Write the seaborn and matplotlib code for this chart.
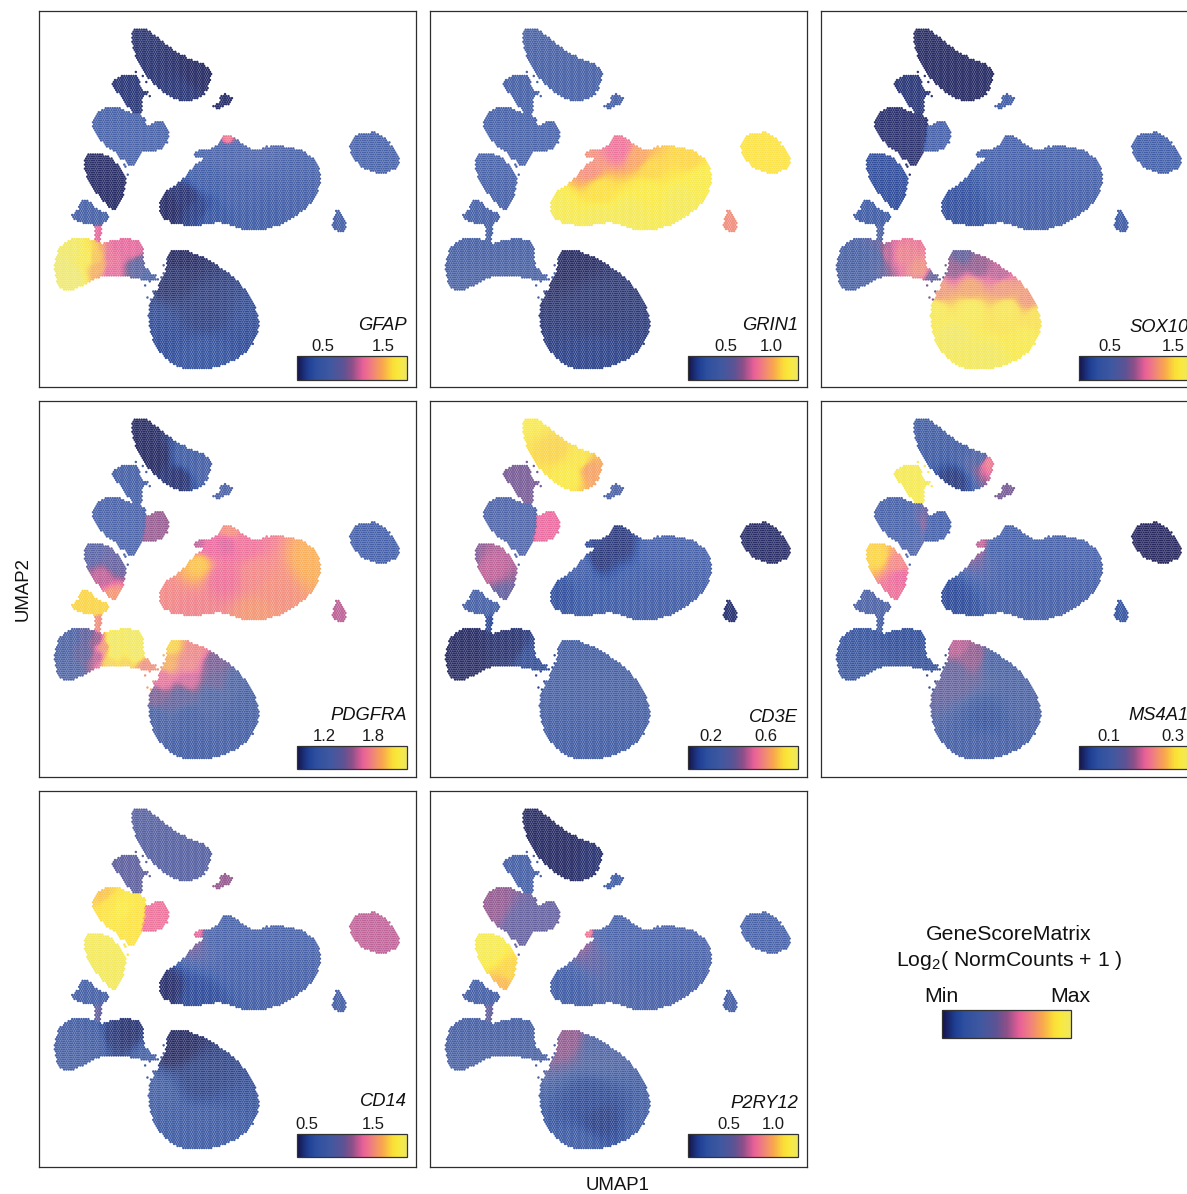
import numpy as np
import pandas as pd
import matplotlib
matplotlib.use("Agg")
import matplotlib.pyplot as plt
from matplotlib.path import Path
from matplotlib.colors import LinearSegmentedColormap, Normalize
from matplotlib.cm import ScalarMappable
from matplotlib.transforms import ScaledTranslation
import seaborn as sns

W, H = 1187, 1194
GENES = ["GFAP", "GRIN1", "SOX10", "PDGFRA", "CD3E", "MS4A1", "CD14", "P2RY12"]
VMIN = [0.056, 0.078, 0.016, 0.859, 0.034, 0.008, 0.423, 0.038]
VRANGE = [1.852, 1.22, 1.736, 1.364, 0.8, 0.342, 1.5625, 1.235]
TICKS = [[0.5, 1.0, 1.5], [0.5, 1.0], [0.5, 1.0, 1.5], [1.2, 1.8], [0.2, 0.6],
         [0.1, 0.2, 0.3], [0.5, 1.0, 1.5], [0.5, 1.0]]
TICKLABELS = [["0.5", "", "1.5"], ["0.5", "1.0"], ["0.5", "", "1.5"], ["1.2", "1.8"], ["0.2", "0.6"],
              ["0.1", "", "0.3"], ["0.5", "", "1.5"], ["0.5", "1.0"]]
LABEL_Y = [325, 325, 328, 715, 717, 715, 1101, 1104]

# Cluster outlines (UMAP axes span 0-1131 here).
CLUSTERS = {
    "A": [(280,55),(312,48),(350,75),(400,120),(450,145),(505,165),(520,190),(505,235),(480,265),(430,272),(390,255),(340,215),(300,160),(280,100)],
    "B": [(215,215),(250,195),(300,190),(303,240),(335,250),(305,252),(312,310),(280,305),(250,260),(225,235)],
    "C": [(517,293),(545,275),(550,248),(580,260),(570,280),(540,290)],
    "D": [(160,330),(190,292),(240,292),(280,310),(315,315),(322,350),(310,420),(280,475),(250,440),(190,395),(165,360)],
    "E": [(300,355),(365,330),(385,350),(390,390),(360,420),(295,425)],
    "F": [(130,455),(150,428),(200,430),(250,480),(262,520),(232,607),(190,570),(150,510)],
    "G": [(92,620),(120,600),(125,568),(150,570),(170,600),(213,610),(195,640),(170,645),(130,635)],
    "H": [(170,640),(187,640),(182,700),(165,685)],
    "IJ": [(50,750),(70,700),(110,682),(165,690),(190,705),(210,695),(250,685),(300,690),(312,720),(310,760),(335,790),(365,815),(320,810),(260,795),(180,795),(130,825),(90,842),(60,830),(50,790)],
    "K": [(385,730),(415,715),(480,735),(560,780),(620,840),(665,930),(640,1010),(570,1060),(480,1082),(400,1065),(345,1000),(328,930),(335,870),(370,815),(385,770)],
    "L": [(360,590),(375,545),(420,520),(460,475),(505,437),(455,435),(490,415),(510,420),(545,400),(548,378),(570,372),(590,385),(610,405),(650,425),(700,402),(780,415),(830,450),(848,500),(830,560),(780,610),(720,645),(650,660),(590,650),(540,630),(480,645),(410,640),(375,625)],
    "M": [(930,400),(960,368),(1010,365),(1050,395),(1082,450),(1070,475),(1020,490),(970,470),(945,440)],
    "N": [(875,645),(890,625),(893,595),(915,620),(923,650),(905,668)],
}
# Loose cells outside the outlines, each belonging to a cluster.
STRAY_IJ = [(340,800),(355,805),(330,815),(345,845),(335,870),(325,860),(315,825),(375,765),(385,745),(350,795),(365,800),(375,790)]
STRAY_B = [(290,185),(330,255),(320,250),(310,195),(325,215),(300,270)]
STRAY_D = [(255,465),(265,490),(245,445),(262,470)]

# Score anchors: (x, y, position on the colour scale 0-1) per gene and cluster,
# read by eye. The cell values between anchors are blended from them, because
# the thousands of individual hex cells cannot be read one by one.
ANCHORS = {
"GFAP": dict(A=[(300,80,.04),(480,190,.02),(430,250,.05)],B=[(260,230,.05)],C=[(550,270,.03)],D=[(240,350,.25)],E=[(350,380,.25)],F=[(190,500,.02)],G=[(150,610,.25)],H=[(178,660,.6)],
    IJ=[(70,760,1.0),(100,720,.98),(100,800,1.0),(140,740,.93),(170,740,.82),(180,775,.78),(220,740,.62),(280,720,.6),(240,710,.6),(300,770,.35),(340,800,.25),(210,785,.6)],
    K=[(410,735,.02),(400,800,.04),(500,900,.07),(500,1050,.14),(640,950,.1),(350,950,.1)],L=[(390,590,.02),(440,560,.04),(480,600,.07),(500,500,.2),(520,620,.15),(600,540,.24),(800,500,.25),(650,650,.2),(565,385,.65),(590,410,.27),(545,405,.25),(570,415,.25),(480,430,.25)],M=[(1000,430,.25)],N=[(900,640,.25)]),
"GRIN1": dict(A=[(400,170,.25)],B=[(260,230,.25)],C=[(550,270,.25)],D=[(240,350,.25)],E=[(350,380,.25)],F=[(190,500,.25)],G=[(150,610,.25)],H=[(178,660,.25)],IJ=[(100,760,.25)],
    K=[(410,740,.02),(500,900,.05),(500,1050,.08)],L=[(380,590,.95),(570,417,.62),(620,440,.75),(480,477,.7),(510,537,.87),(660,477,.85),(780,447,.85),(810,507,.93),(750,567,.96),(510,627,.96),(600,600,.96),(650,540,.92),(390,630,.95)],M=[(1000,430,.88)],N=[(900,640,.7)]),
"SOX10": dict(A=[(400,170,.02)],B=[(260,230,.05)],C=[(550,270,.2)],D=[(240,350,.03)],E=[(350,380,.22)],F=[(190,500,.1)],G=[(150,610,.2)],H=[(178,660,.3)],IJ=[(70,760,.25),(120,750,.25),(120,810,.25),(165,740,.3),(200,732,.55),(240,732,.66),(300,777,.7),(340,800,.4)],
    K=[(420,735,.4),(400,770,.5),(470,770,.5),(540,790,.55),(350,840,.72),(450,830,.75),(550,830,.72),(620,860,.72),(340,900,.92),(450,900,.92),(560,900,.9),(650,920,.88),(400,980,.97),(500,1050,.97),(620,990,.92)],L=[(380,590,.12),(600,500,.22),(800,500,.24)],M=[(1000,430,.2)],N=[(900,640,.2)]),
"PDGFRA": dict(A=[(300,80,.02),(350,170,.02),(420,230,.04),(450,170,.2),(500,200,.25)],B=[(260,230,.25)],C=[(550,270,.3)],D=[(240,350,.27)],E=[(350,380,.5)],F=[(160,460,.35),(230,490,.4),(190,530,.55),(220,590,.72)],G=[(150,610,.85)],H=[(178,660,.7)],
    IJ=[(70,760,.28),(100,710,.3),(100,810,.3),(140,760,.38),(140,710,.38),(170,720,.5),(172,770,.55),(192,740,.72),(220,720,.98),(280,710,.98),(290,760,.97),(225,755,.97),(210,785,.85),(320,800,.7),(260,790,.85)],
    K=[(395,735,.85),(470,750,.68),(385,790,.78),(450,790,.68),(530,790,.45),(370,835,.62),(450,840,.58),(530,840,.42),(590,850,.27),(345,890,.45),(430,890,.38),(520,890,.27),(620,890,.22),(340,950,.25),(450,950,.22),(600,950,.22),(450,1040,.22)],
    L=[(380,590,.68),(480,490,.82),(470,430,.55),(550,530,.62),(650,520,.68),(570,385,.7),(620,430,.62),(560,430,.58),(520,440,.6),(700,560,.7),(820,480,.78),(650,640,.72),(450,630,.67)],M=[(1000,430,.22)],N=[(900,640,.55)]),
"CD3E": dict(A=[(300,42,.92),(480,207,.75),(375,147,.85),(450,180,.9),(510,237,.75),(420,222,.92)],B=[(260,230,.45)],C=[(550,270,.3)],D=[(240,350,.3)],E=[(350,380,.6)],F=[(105,477,.45),(180,507,.55),(210,597,.4)],G=[(150,610,.25)],H=[(178,660,.1)],IJ=[(100,760,.02),(240,740,.04),(300,777,.1)],
    K=[(500,900,.22)],L=[(510,477,.05),(570,432,.05),(390,567,.12),(450,500,.22),(600,560,.2),(680,450,.22),(480,570,.18),(660,597,.22),(810,507,.25)],M=[(1000,430,.02)],N=[(900,640,.04)]),
"MS4A1": dict(A=[(320,130,.2),(500,185,.65),(480,170,.3),(400,240,.06),(430,130,.2)],B=[(260,230,.95)],C=[(550,270,.45)],D=[(240,350,.25),(310,370,.45),(280,380,.25)],E=[(350,380,.22)],F=[(170,470,.85),(230,490,.68),(220,580,.62),(240,530,.6)],G=[(150,610,.3)],H=[(178,660,.25)],IJ=[(100,760,.15),(250,740,.12)],
    K=[(410,740,.55),(450,770,.5),(400,820,.4),(530,790,.25),(500,950,.15),(500,1050,.25),(620,930,.25)],L=[(380,590,.1),(480,430,.55),(520,440,.22),(570,420,.22),(600,500,.22),(800,500,.25)],M=[(1000,430,.01)],N=[(900,640,.15)]),
"CD14": dict(A=[(400,170,.34)],B=[(260,230,.38)],C=[(550,270,.5)],D=[(190,310,.82),(240,350,.92),(213,342,.88),(290,390,.88)],E=[(350,380,.62)],F=[(190,500,.97)],G=[(150,610,.25)],H=[(178,660,.4)],IJ=[(100,760,.25),(165,750,.22),(220,740,.06),(258,732,.04),(333,807,.2)],
    K=[(408,762,.02),(483,867,.08),(483,1017,.2),(350,930,.2)],L=[(380,590,.03),(480,620,.1),(600,500,.24),(800,500,.25),(483,425,.6),(505,430,.3),(560,390,.25),(530,440,.25)],M=[(1000,430,.55)],N=[(900,640,.25)]),
"P2RY12": dict(A=[(300,80,.02),(400,180,.02),(500,200,.04)],B=[(260,230,.25)],C=[(550,270,.2)],D=[(180,342,.5),(280,400,.4)],E=[(350,380,.4)],F=[(180,477,.95),(240,537,.85),(215,590,.8)],G=[(150,610,.25)],H=[(178,660,.4)],IJ=[(100,760,.25)],
    K=[(405,747,.5),(510,777,.3),(480,927,.1),(510,987,.08),(660,1017,.2),(450,1077,.2)],L=[(380,590,.2),(480,425,.65),(500,430,.3),(530,430,.25),(570,385,.25),(650,500,.25)],M=[(1000,430,.25)],N=[(900,640,.25)]),
}

SPAN = 1131.0


def px_rect(left, top, right, bottom):
    return [left / W, 1 - bottom / H, (right - left) / W, (bottom - top) / H]


def chaikin(points, rounds=2):
    pts = np.asarray(points, float)
    for _ in range(rounds):
        nxt = np.roll(pts, -1, axis=0)
        pts = np.column_stack([0.75 * pts + 0.25 * nxt, 0.25 * pts + 0.75 * nxt]).reshape(-1, 2)
    return pts


sns.set_theme(style="white")
plt.rcParams["font.family"] = ["Liberation Sans", "DejaVu Sans"]
plt.rcParams["mathtext.fontset"] = "custom"
plt.rcParams["mathtext.rm"] = "Liberation Sans"

colour_stops = [(0, "#15134b"), (.1, "#1f3f93"), (.17, "#2d4f9f"), (.3, "#4058a0"), (.42, "#5c5394"),
                (.5, "#8c4f88"), (.6, "#e85f98"), (.68, "#ef7f80"), (.78, "#f8a84d"), (.87, "#fbdd38"),
                (.92, "#f9e93c"), (1, "#efe860")]
cmap = LinearSegmentedColormap.from_list("score", colour_stops, N=256)

# Cells of a fine lattice that fall inside the outlines.
gx, gy = np.meshgrid(np.arange(40, 1095, 3.5), np.arange(40, 1090, 3.5))
lattice = np.column_stack([gx.ravel(), gy.ravel()])
members = {}
taken = np.zeros(len(lattice), bool)
for name, outline in CLUSTERS.items():
    inside = Path(chaikin(outline), closed=False).contains_points(lattice) & ~taken
    taken |= inside
    members[name] = lattice[inside]
members["IJ"] = np.vstack([members["IJ"], np.array(STRAY_IJ, float)])
members["B"] = np.vstack([members["B"], np.array(STRAY_B, float)])
members["D"] = np.vstack([members["D"], np.array(STRAY_D, float)])


def blend(points, anchors):
    a = np.array(anchors, float)
    d2 = ((points[:, None, :] - a[None, :, :2]) ** 2).sum(axis=2) + 25.0
    w = d2 ** -2.0
    return (w * a[:, 2]).sum(axis=1) / w.sum(axis=1)


frames = []
for g, gene in enumerate(GENES):
    for name, pts in members.items():
        frac = blend(pts, ANCHORS[gene][name])
        frames.append(pd.DataFrame({"gene": gene, "umap1": pts[:, 0], "umap2": pts[:, 1],
                                    "score": VMIN[g] + frac * VRANGE[g]}))
table = pd.concat(frames, ignore_index=True)


def hex_panel(data, color=None, **kws):
    ax = plt.gca()
    g = GENES.index(data["gene"].iloc[0])
    ax.hexbin(data["umap1"], data["umap2"], C=data["score"], gridsize=150,
              extent=(44, 1086, 44, 1086), cmap=cmap, vmin=VMIN[g], vmax=VMIN[g] + VRANGE[g],
              linewidths=0, alpha=0.93, reduce_C_function=np.mean)


grid = sns.FacetGrid(table, col="gene", col_order=GENES, col_wrap=3, sharex=True, sharey=True,
                     despine=False, height=3.5)
grid.map_dataframe(hex_panel)
fig = grid.figure
fig.set_size_inches(W / 100, H / 100)
fig.set_dpi(100)
grid.set_titles("")
grid.set_axis_labels("", "")

LEFTS = [39, 430, 821]
TOPS = [11, 401, 791]
BAR_TOPS = [356, 746, 1134]
BAR_BOTTOMS = [380, 769, 1157]

for i, (gene, ax) in enumerate(zip(GENES, grid.axes.flat)):
    row, col = i // 3, i % 3
    left, top = LEFTS[col], TOPS[row]
    ax.set_position(px_rect(left, top, left + 377, top + 376))
    ax.set_xlim(0, SPAN)
    ax.set_ylim(SPAN, 0)
    ax.set_xticks([])
    ax.set_yticks([])
    ax.set_title("")
    for s in ax.spines.values():
        s.set_visible(True)
        s.set_color("#2e2e2e")
        s.set_linewidth(0.9)
    bar_left = left + 258
    cax = fig.add_axes(px_rect(bar_left, BAR_TOPS[row], bar_left + 110, BAR_BOTTOMS[row]))
    sm = ScalarMappable(norm=Normalize(VMIN[i], VMIN[i] + VRANGE[i]), cmap=cmap)
    cb = fig.colorbar(sm, cax=cax, orientation="horizontal")
    cb.set_ticks(TICKS[i], labels=TICKLABELS[i])
    cax.xaxis.set_ticks_position("top")
    cax.tick_params(axis="x", which="major", direction="in", length=3.2, width=0.9, color="#333333",
                    top=True, bottom=True, labeltop=True, labelbottom=False, pad=1.3,
                    labelsize=12, labelcolor="#1a1a1a")
    cb.outline.set_edgecolor("#333333")
    cb.outline.set_linewidth(0.9)
    if gene == "CD14":
        first = cax.get_xticklabels()[0]
        first.set_transform(first.get_transform() + ScaledTranslation(4 / 100, 0, fig.dpi_scale_trans))
    fig.text((bar_left + 110) / W, 1 - LABEL_Y[i] / H, gene, style="italic", ha="right", va="center",
             fontsize=13.2, color="#111111")

legend_ax = fig.add_axes(px_rect(942, 1010, 1071, 1038))
legend_bar = fig.colorbar(ScalarMappable(norm=Normalize(0, 1), cmap=cmap), cax=legend_ax, orientation="horizontal")
legend_bar.set_ticks([])
legend_bar.outline.set_edgecolor("#333333")
legend_bar.outline.set_linewidth(0.9)

LEGEND_SIZE = 15.3
fig.text(1009 / W, 1 - 935 / H, "GeneScoreMatrix", ha="center", va="center", fontsize=LEGEND_SIZE, color="#111111")
fig.text(1009 / W, 1 - 961 / H, r"Log$_{\mathrm{2}}$( NormCounts + 1 )", ha="center", va="center",
         fontsize=LEGEND_SIZE, color="#111111")
fig.text(941 / W, 1 - 997 / H, "Min", ha="center", va="center", fontsize=LEGEND_SIZE, color="#111111")
fig.text(1070 / W, 1 - 997 / H, "Max", ha="center", va="center", fontsize=LEGEND_SIZE, color="#111111")
fig.text(618 / W, 1 - 1186 / H, "UMAP1", ha="center", va="center", fontsize=13.4, color="#111111")
fig.text(23 / W, 1 - 589 / H, "UMAP2", ha="center", va="center", rotation=90, fontsize=13.4, color="#111111")

fig.savefig("out.png", dpi=100, facecolor="white")
